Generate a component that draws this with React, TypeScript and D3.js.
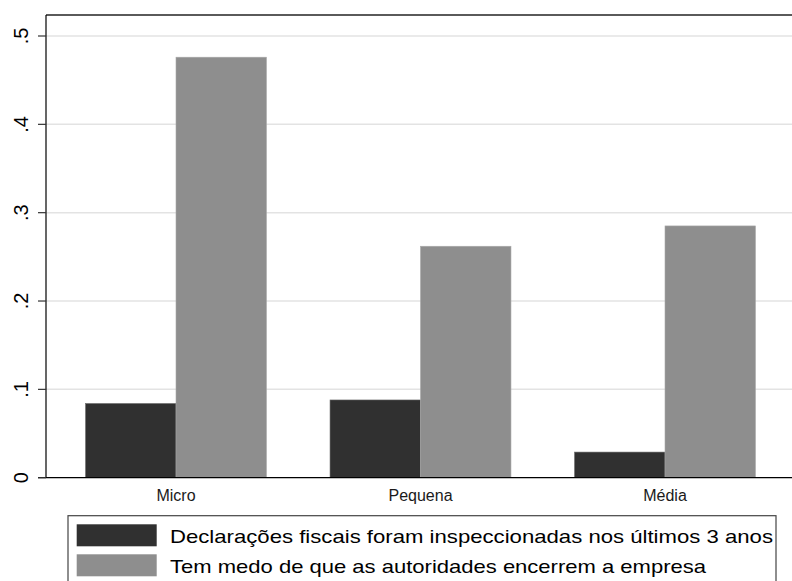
import React from "react";
import * as d3 from "d3";

const categories = ["Micro", "Pequena", "Média"];
const seriesNames = [
  "Declarações fiscais foram inspeccionadas nos últimos 3 anos",
  "Tem medo de que as autoridades encerrem a empresa",
];
const inspected = [0.084, 0.088, 0.029];
const fear = [0.476, 0.262, 0.285];
const yTicks = [0, 0.1, 0.2, 0.3, 0.4, 0.5];
const yTickLabels = ["0", ".1", ".2", ".3", ".4", ".5"];
const colors = ["#303030", "#8e8e8e"];
const legendWidths = [603, 536];

const W = 792;
const H = 581;
const FONT = "Arial, 'Liberation Sans', sans-serif";

export default function App() {
  const left = 46;
  const top = 15;
  const bottom = 477.7;
  const y = d3.scaleLinear().domain([0, 0.5]).range([bottom, 36]);
  const x0 = d3
    .scaleBand<string>()
    .domain(categories)
    .range([53.75, 787.25])
    .paddingInner(0.26)
    .paddingOuter(0.13);
  const x1 = d3
    .scaleBand<number>()
    .domain([0, 1])
    .range([0, x0.bandwidth()]);
  const series = [inspected, fear];

  return (
    <svg
      width={W}
      height={H}
      style={{ position: "absolute", left: 0, top: 0, background: "#fff" }}
      fontFamily={FONT}
    >
      <rect x={0} y={0} width={W} height={H} fill="#fff" />
      {/* grid */}
      {yTicks.slice(1).map((t) => (
        <line
          key={"g" + t}
          x1={left}
          x2={W}
          y1={y(t)}
          y2={y(t)}
          stroke="#e3e3e3"
          strokeWidth={1.5}
        />
      ))}
      {/* bars */}
      {categories.map((c, i) =>
        series.map((s, j) => (
          <rect
            key={c + j}
            x={(x0(c) as number) + (x1(j) as number)}
            y={y(s[i])}
            width={x1.bandwidth()}
            height={bottom - y(s[i])}
            fill={colors[j]}
            stroke={j === 0 ? "#6a6a6a" : "#a8a8a8"}
            strokeWidth={0.6}
          />
        ))
      )}
      {/* frame */}
      <line x1={left} x2={W} y1={top} y2={top} stroke="#5a5a5a" strokeWidth={2} />
      <line x1={left} x2={left} y1={top} y2={bottom} stroke="#000" strokeWidth={1.2} />
      <line x1={left - 8} x2={W} y1={bottom} y2={bottom} stroke="#000" strokeWidth={1.2} />
      {/* y ticks */}
      {yTicks.map((t, i) => (
        <g key={"t" + t}>
          <line x1={left - 8} x2={left} y1={y(t)} y2={y(t)} stroke="#333" strokeWidth={1.2} />
          <text
            transform={`translate(27.5,${y(t)}) rotate(-90)`}
            textAnchor="middle"
            fontSize={20}
            fill="#000"
          >
            {yTickLabels[i]}
          </text>
        </g>
      ))}
      {/* x labels */}
      {categories.map((c) => (
        <text
          key={"x" + c}
          x={(x0(c) as number) + x0.bandwidth() / 2}
          y={500.5}
          textAnchor="middle"
          fontSize={16}
          fill="#1a1a1a"
        >
          {c}
        </text>
      ))}
      {/* legend */}
      <rect x={68} y={515.7} width={708} height={80} fill="#fff" stroke="#444" strokeWidth={1.2} />
      {seriesNames.map((n, j) => (
        <g key={"l" + j}>
          <rect x={76.7} y={524.3 + j * 30} width={80} height={22} fill={colors[j]} />
          <text
            x={170}
            y={542.5 + j * 30}
            fontSize={18.5}
            fill="#000"
            textLength={legendWidths[j]}
            lengthAdjust="spacingAndGlyphs"
          >
            {n}
          </text>
        </g>
      ))}
    </svg>
  );
}
